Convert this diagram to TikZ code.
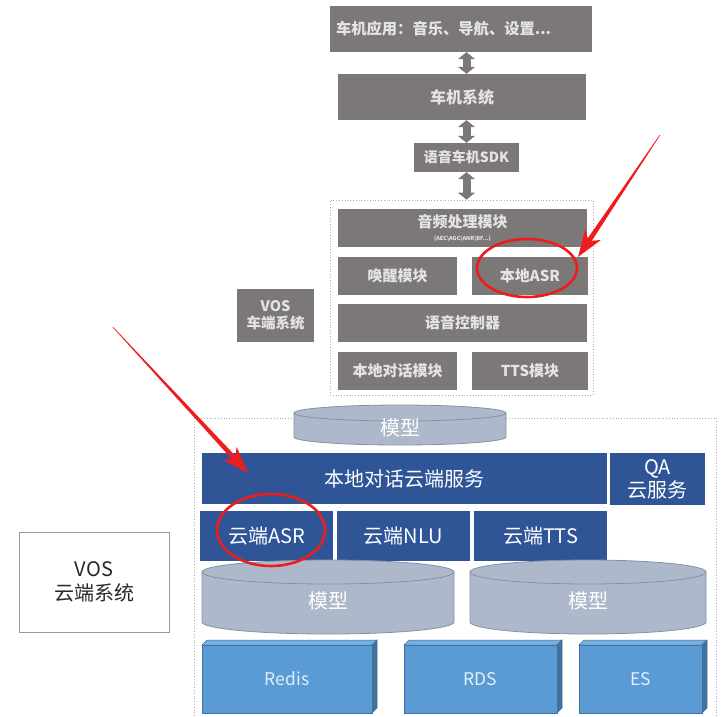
\documentclass[tikz,border=0pt]{standalone}
\usepackage{fontspec}
\setmainfont{Noto Sans CJK SC}
\usetikzlibrary{arrows.meta,calc}
\definecolor{gbox}{RGB}{124,120,120}
\definecolor{gtxt}{RGB}{228,228,228}
\definecolor{bbox}{RGB}{47,85,151}
\definecolor{cyl}{RGB}{173,185,202}
\definecolor{cylb}{RGB}{132,146,166}
\definecolor{lbf}{RGB}{91,155,213}
\definecolor{lbt}{RGB}{120,175,225}
\definecolor{lbs}{RGB}{65,113,156}
\definecolor{lbtxt}{RGB}{225,238,248}
\definecolor{dotc}{RGB}{170,175,180}
\definecolor{redm}{RGB}{238,28,28}
\begin{document}
\begin{tikzpicture}[x=1pt,y=-1pt,
  gb/.style={fill=gbox, text=gtxt, inner sep=0pt, align=center, font=\fontsize{15}{17}\selectfont\bfseries},
  bb/.style={fill=bbox, text=white, inner sep=0pt, align=center, font=\fontsize{20}{22}\selectfont},
  dbl/.style={draw=gbox, line width=8pt, {Triangle[length=7pt,width=17pt]}-{Triangle[length=7pt,width=17pt]}},
  cont/.style={draw=dotc, dotted, line width=0.8pt},
  cyltxt/.style={text=white, font=\fontsize{20}{22}\selectfont, inner sep=0pt},
  dbtxt/.style={text=lbtxt, font=\fontsize{17.5}{19}\selectfont, inner sep=0pt},
  redline/.style={draw=redm, line width=2.6pt},
  redhead/.style={fill=redm, draw=none}
]
\useasboundingbox (0,0) rectangle (727,716);

% ---- vehicle side ----
\node[gb, minimum width=262pt, minimum height=46pt, text width=250pt, align=left, font=\fontsize{15.3}{17}\selectfont\bfseries] (app) at (461,29) {车机应用：音乐、导航、设置...};
\node[gb, minimum width=248pt, minimum height=46pt, font=\fontsize{16}{18}\selectfont\bfseries] (sys) at (462,97) {车机系统};
\node[gb, minimum width=105pt, minimum height=29pt, font=\fontsize{14}{16}\selectfont\bfseries] (sdk) at (466.5,157.5) {语音车机SDK};

\node[cont, minimum width=263pt, minimum height=195pt, inner sep=0pt] (loc) at (461.5,297.5) {};

\node[gb, minimum width=249pt, minimum height=38pt] (audio) at (462.5,228) {音频处理模块\\[-4pt]{\fontsize{5.5}{6}\selectfont (AEC\textbackslash AGC\textbackslash ANR\textbackslash BF...)}};
\node[gb, minimum width=119pt, minimum height=38pt] (wake) at (397.5,276) {唤醒模块};
\node[gb, minimum width=116pt, minimum height=38pt] (lasr) at (530,276) {本地ASR};
\node[gb, minimum width=249pt, minimum height=38pt] (ctrl) at (462.5,323) {语音控制器};
\node[gb, minimum width=119pt, minimum height=38pt] (ldlg) at (397.5,371) {本地对话模块};
\node[gb, minimum width=116pt, minimum height=38pt] (tts) at (530,371) {TTS模块};

\node[gb, minimum width=77pt, minimum height=53pt, font=\fontsize{14.5}{17}\selectfont\bfseries] (vosv) at (275.5,315.5) {VOS\\车端系统};

\draw[dbl] (app.south -| sdk.north) -- (sys.north -| sdk.north);
\draw[dbl] (sys.south -| sdk.north) -- (sdk.north);
\draw[dbl] (sdk.south) -- (loc.north -| sdk.south);

% ---- cloud side ----
\draw[cont] (194,716) -- (194,418) -- (716,418) -- (716,716);

% top cylinder
\fill[cyl, draw=cylb, line width=0.8pt] (294,413) -- (294,437) arc[start angle=180, end angle=360, x radius=106pt, y radius=8pt] -- (506,413) -- cycle;
\draw[cylb, fill=cyl, line width=0.8pt] (400,413) ellipse [x radius=106pt, y radius=8pt];
\node[cyltxt] (m1) at (400,428) {模型};

\node[bb, minimum width=405pt, minimum height=51pt] (ldcs) at (404.5,478.5) {本地对话云端服务};
\node[bb, minimum width=95pt, minimum height=52pt, font=\fontsize{20}{23}\selectfont] (qa) at (657.5,479) {QA\\云服务};
\node[bb, minimum width=133pt, minimum height=50pt] (casr) at (266.5,536) {云端ASR};
\node[bb, minimum width=133pt, minimum height=50pt] (cnlu) at (403.5,536) {云端NLU};
\node[bb, minimum width=133pt, minimum height=50pt] (ctts) at (540.5,536) {云端TTS};

% big cylinders
\fill[cyl, draw=cylb, line width=0.8pt] (202,572) -- (202,622) arc[start angle=180, end angle=360, x radius=126pt, y radius=12pt] -- (454,572) -- cycle;
\draw[cylb, fill=cyl, line width=0.8pt] (328,572) ellipse [x radius=126pt, y radius=12pt];
\node[cyltxt] (m2) at (328,601) {模型};
\fill[cyl, draw=cylb, line width=0.8pt] (470,572) -- (470,622) arc[start angle=180, end angle=360, x radius=118pt, y radius=12pt] -- (706,572) -- cycle;
\draw[cylb, fill=cyl, line width=0.8pt] (588,572) ellipse [x radius=118pt, y radius=12pt];
\node[cyltxt] (m3) at (588,601) {模型};

% 3D boxes
\foreach \xa/\xb/\nm in {202/372/redis, 404/557/rds, 579/702/es}{
  \fill[lbt, draw=lbs, line width=0.5pt] (\xa,645) -- (\xa+5,640) -- (\xb+5,640) -- (\xb,645) -- cycle;
  \fill[lbs, draw=lbs, line width=0.5pt] (\xb,645) -- (\xb+5,640) -- (\xb+5,708) -- (\xb,713) -- cycle;
  \fill[lbf, draw=lbs, line width=0.5pt] (\xa,645) rectangle (\xb,713);
}
\node[dbtxt] (tredis) at (287,679) {Redis};
\node[dbtxt] (trds) at (480.5,679) {RDS};
\node[dbtxt] (tes) at (640.5,679) {ES};

\node[draw=gray!80, line width=1pt, fill=white, minimum width=150pt, minimum height=100pt, inner sep=0pt, align=center, text={rgb,255:red,40;green,40;blue,40}, font=\fontsize{20}{24}\selectfont] (vosc) at (94,582) {VOS\\云端系统};

% ---- red annotations ----
\draw[redline] (527,268) ellipse [x radius=50pt, y radius=29pt];
\draw[redline] (271,530) ellipse [x radius=54pt, y radius=36pt];

\coordinate (tip1) at (578,257);
\coordinate (tip2) at (248,473);
\begin{scope}[shift={(tip1)}, rotate=236.1, x=1pt, y=1pt]
  \fill[redhead] (0,0) -- (-27,9.5) -- (-21,2.4) -- (-147,0.3) -- (-147,-0.3) -- (-21,-2.4) -- (-27,-9.5) -- cycle;
\end{scope}
\begin{scope}[shift={(tip2)}, rotate=-47.2, x=1pt, y=1pt]
  \fill[redhead] (0,0) -- (-27,9.5) -- (-21,2.4) -- (-199,0.3) -- (-199,-0.3) -- (-21,-2.4) -- (-27,-9.5) -- cycle;
\end{scope}
\end{tikzpicture}
\end{document}
